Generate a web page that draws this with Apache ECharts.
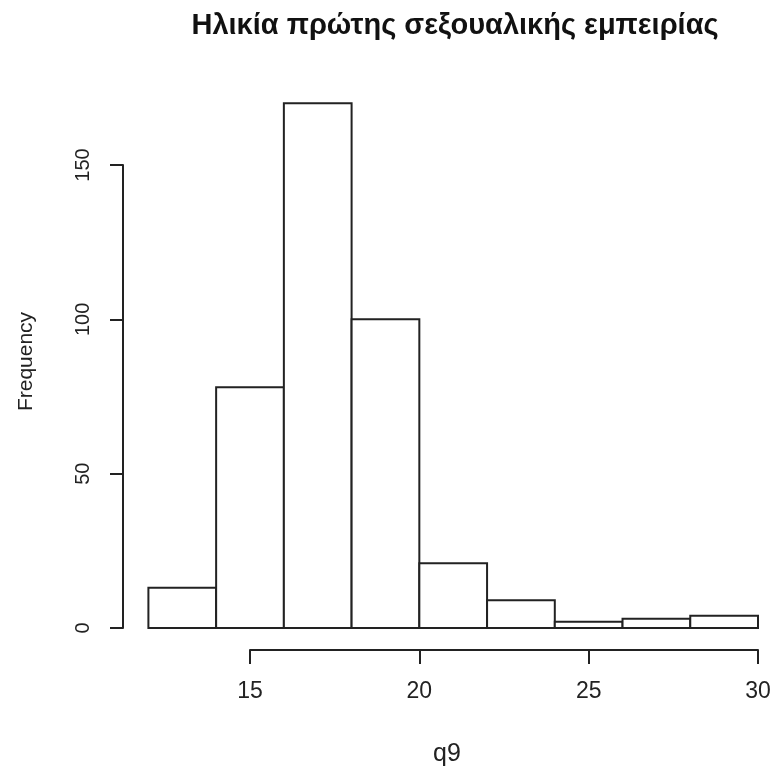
<!DOCTYPE html>
<html>
<head>
<meta charset="utf-8">
<script src="https://cdn.jsdelivr.net/npm/echarts@6/dist/echarts.min.js"></script>
<style>html,body{margin:0;padding:0;background:#fff}#c{width:774px;height:772px}</style>
</head>
<body>
<div id="c"></div>
<script>
// Histogram data
var titleText = 'Ηλικία πρώτης σεξουαλικής εμπειρίας';
var xName = 'q9';
var yName = 'Frequency';
var binStarts = [12, 14, 16, 18, 20, 22, 24, 26, 28];
var binEnds   = [14, 16, 18, 20, 22, 24, 26, 28, 30];
var counts    = [13, 78, 170, 100, 21, 9, 2, 3, 4];
var xTicks = [15, 20, 25, 30];
var yTicks = [0, 50, 100, 150];

var data = binStarts.map(function (s, i) { return [s, binEnds[i], counts[i]]; });
var FONT = '"Liberation Sans", Arial, sans-serif';

var chart = echarts.init(document.getElementById('c'));
chart.setOption({
  backgroundColor: '#ffffff',
  animation: false,
  title: {
    text: titleText,
    left: 455,
    textAlign: 'center',
    top: 11,
    padding: 0,
    textStyle: { fontFamily: FONT, fontWeight: 'bold', fontSize: 29, color: '#111' }
  },
  grid: { left: 250, right: 16, top: 165, bottom: 141 },
  xAxis: {
    type: 'value', min: xTicks[0], max: xTicks[xTicks.length - 1], interval: 5,
    offset: 22,
    name: xName, nameLocation: 'middle', nameGap: 92,
    nameTextStyle: { fontFamily: FONT, fontSize: 25, color: '#222', padding: [0, 114, 0, 0] },
    axisLine: { show: true, onZero: false, lineStyle: { color: '#222', width: 2 } },
    axisTick: { show: true, length: 14, lineStyle: { color: '#222', width: 2 } },
    axisLabel: { fontFamily: FONT, fontSize: 23, color: '#222', margin: 30 },
    splitLine: { show: false }
  },
  yAxis: {
    type: 'value', min: yTicks[0], max: yTicks[yTicks.length - 1], interval: 50,
    offset: 127,
    name: yName, nameLocation: 'middle', nameGap: 86, nameRotate: 90,
    nameTextStyle: { fontFamily: FONT, fontSize: 21, color: '#222', padding: [0, 0, 0, 70] },
    axisLine: { show: true, onZero: false, lineStyle: { color: '#222', width: 2 } },
    axisTick: { show: true, length: 13, lineStyle: { color: '#222', width: 2 } },
    axisLabel: { fontFamily: FONT, fontSize: 20, color: '#222', margin: 30, rotate: 90 },
    splitLine: { show: false }
  },
  series: [{
    type: 'custom',
    clip: false,
    data: data,
    encode: { x: [0, 1], y: 2 },
    renderItem: function (params, api) {
      var p0 = api.coord([api.value(0), 0]);
      var p1 = api.coord([api.value(1), api.value(2)]);
      return {
        type: 'rect',
        shape: { x: p0[0], y: p1[1], width: p1[0] - p0[0], height: p0[1] - p1[1] },
        style: { fill: '#ffffff', stroke: '#222', lineWidth: 2 }
      };
    }
  }]
});
</script>
</body>
</html>
